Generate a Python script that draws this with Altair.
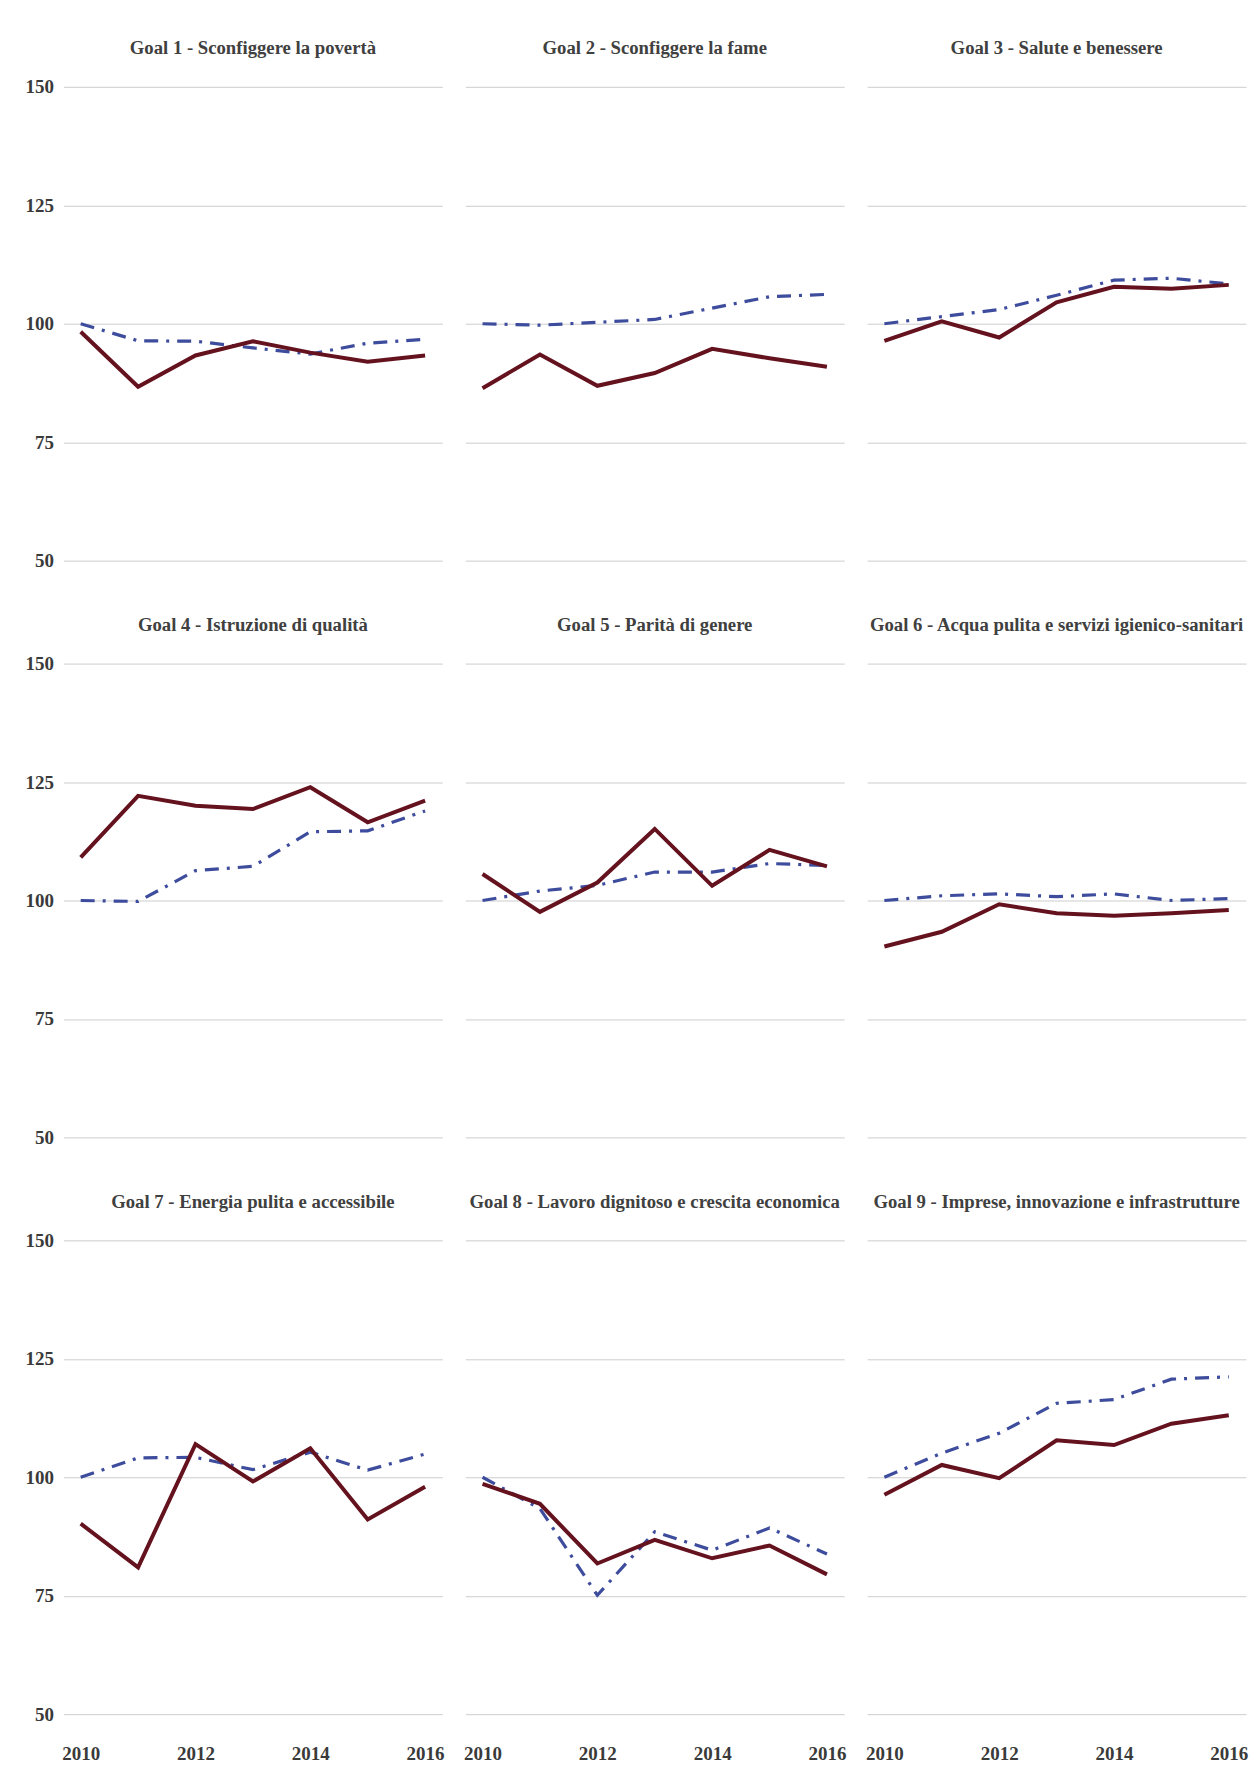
import altair as alt
import pandas as pd

years = [2010, 2011, 2012, 2013, 2014, 2015, 2016]

titles = [
    "Goal 1 - Sconfiggere la povertà",
    "Goal 2 - Sconfiggere la fame",
    "Goal 3 - Salute e benessere",
    "Goal 4 - Istruzione di qualità",
    "Goal 5 - Parità di genere",
    "Goal 6 - Acqua pulita e servizi igienico-sanitari",
    "Goal 7 - Energia pulita e accessibile",
    "Goal 8 - Lavoro dignitoso e crescita economica",
    "Goal 9 - Imprese, innovazione e infrastrutture",
]

serie_1 = [  # solid dark red line
    [98.3, 86.7, 93.3, 96.3, 93.9, 92.0, 93.3],
    [86.4, 93.5, 86.9, 89.6, 94.7, 92.7, 90.9],
    [96.4, 100.5, 97.1, 104.5, 107.8, 107.4, 108.2],
    [109.1, 122.1, 120.0, 119.3, 123.9, 116.5, 121.1],
    [105.6, 97.6, 103.8, 115.1, 103.1, 110.7, 107.2],
    [90.3, 93.4, 99.2, 97.3, 96.8, 97.3, 98.0],
    [90.2, 81.0, 107.0, 99.1, 106.1, 91.1, 98.0],
    [98.6, 94.4, 81.8, 86.8, 82.9, 85.6, 79.5],
    [96.3, 102.6, 99.8, 107.8, 106.8, 111.3, 113.1],
]

serie_2 = [  # dash-dot blue line
    [100.0, 96.4, 96.3, 94.9, 93.6, 95.9, 96.7],
    [100.0, 99.7, 100.3, 100.9, 103.3, 105.7, 106.2],
    [100.0, 101.5, 103.0, 106.0, 109.2, 109.6, 108.4],
    [100.0, 99.8, 106.3, 107.2, 114.5, 114.7, 118.9],
    [100.0, 102.0, 103.2, 106.0, 106.0, 107.8, 107.4],
    [100.0, 101.0, 101.4, 100.8, 101.4, 100.0, 100.4],
    [100.0, 104.1, 104.2, 101.6, 105.3, 101.5, 104.9],
    [100.0, 93.4, 75.1, 88.5, 84.6, 89.3, 83.8],
    [100.0, 105.1, 109.3, 115.6, 116.4, 120.7, 121.2],
]

y_ticks = [50, 75, 100, 125, 150]
x_ticks = [2010, 2012, 2014, 2016]

FONT = "Liberation Serif"
RED = "#65121f"
BLUE = "#3d4c9c"
GRID = "#cdcdcd"
TXT = "#3a3a3a"

W, H = 379, 474

panels = []
for i, t in enumerate(titles):
    row, col = divmod(i, 3)
    df = pd.DataFrame({"anno": years, "s1": serie_1[i], "s2": serie_2[i]})

    if col == 0:
        yaxis = alt.Axis(values=y_ticks, grid=True, gridColor=GRID, gridWidth=1,
                         domain=False, ticks=False, labelPadding=10,
                         labelFont=FONT, labelFontSize=19, labelFontWeight="bold",
                         labelColor=TXT, minExtent=50, maxExtent=50, title=None)
        toff = 20
    else:
        yaxis = alt.Axis(values=y_ticks, grid=True, gridColor=GRID, gridWidth=1,
                         domain=False, ticks=False, labels=False,
                         minExtent=0, maxExtent=0, title=None)
        toff = 29

    if row == 2:
        xaxis = alt.Axis(values=x_ticks, format="d", grid=False, domain=False,
                         ticks=False, tickSize=0, labelPadding=30, labelFlush=False,
                         labelFont=FONT, labelFontSize=19, labelFontWeight="bold",
                         labelColor=TXT, title=None)
    else:
        xaxis = None

    xs = alt.Scale(domain=[2009.7, 2016.3], nice=False, zero=False)
    ys = alt.Scale(domain=[50, 150], nice=False, zero=False)

    blue = alt.Chart(df).mark_line(color=BLUE, strokeWidth=3.2,
                                   strokeDash=[14, 8, 3, 8]).encode(
        x=alt.X("anno:Q", scale=xs, axis=xaxis),
        y=alt.Y("s2:Q", scale=ys, axis=yaxis),
    )
    red = alt.Chart(df).mark_line(color=RED, strokeWidth=4).encode(
        x=alt.X("anno:Q", scale=xs, axis=xaxis),
        y=alt.Y("s1:Q", scale=ys, axis=yaxis),
    )
    p = alt.layer(blue, red).properties(
        width=W, height=H,
        title=alt.TitleParams(text=t, font=FONT, fontSize=18.7, fontWeight="bold",
                              color="#404040", offset=toff, anchor="middle"),
    )
    panels.append(p)

chart = alt.concat(*panels, columns=3).properties(
    spacing={"row": 103, "column": 23},
    bounds="flush",
    padding={"left": 5.5, "top": 30.5, "right": 2, "bottom": 5},
    background="white",
).configure_view(stroke=None)

chart.save("out.html", embed_options={"renderer": "svg", "actions": False})
